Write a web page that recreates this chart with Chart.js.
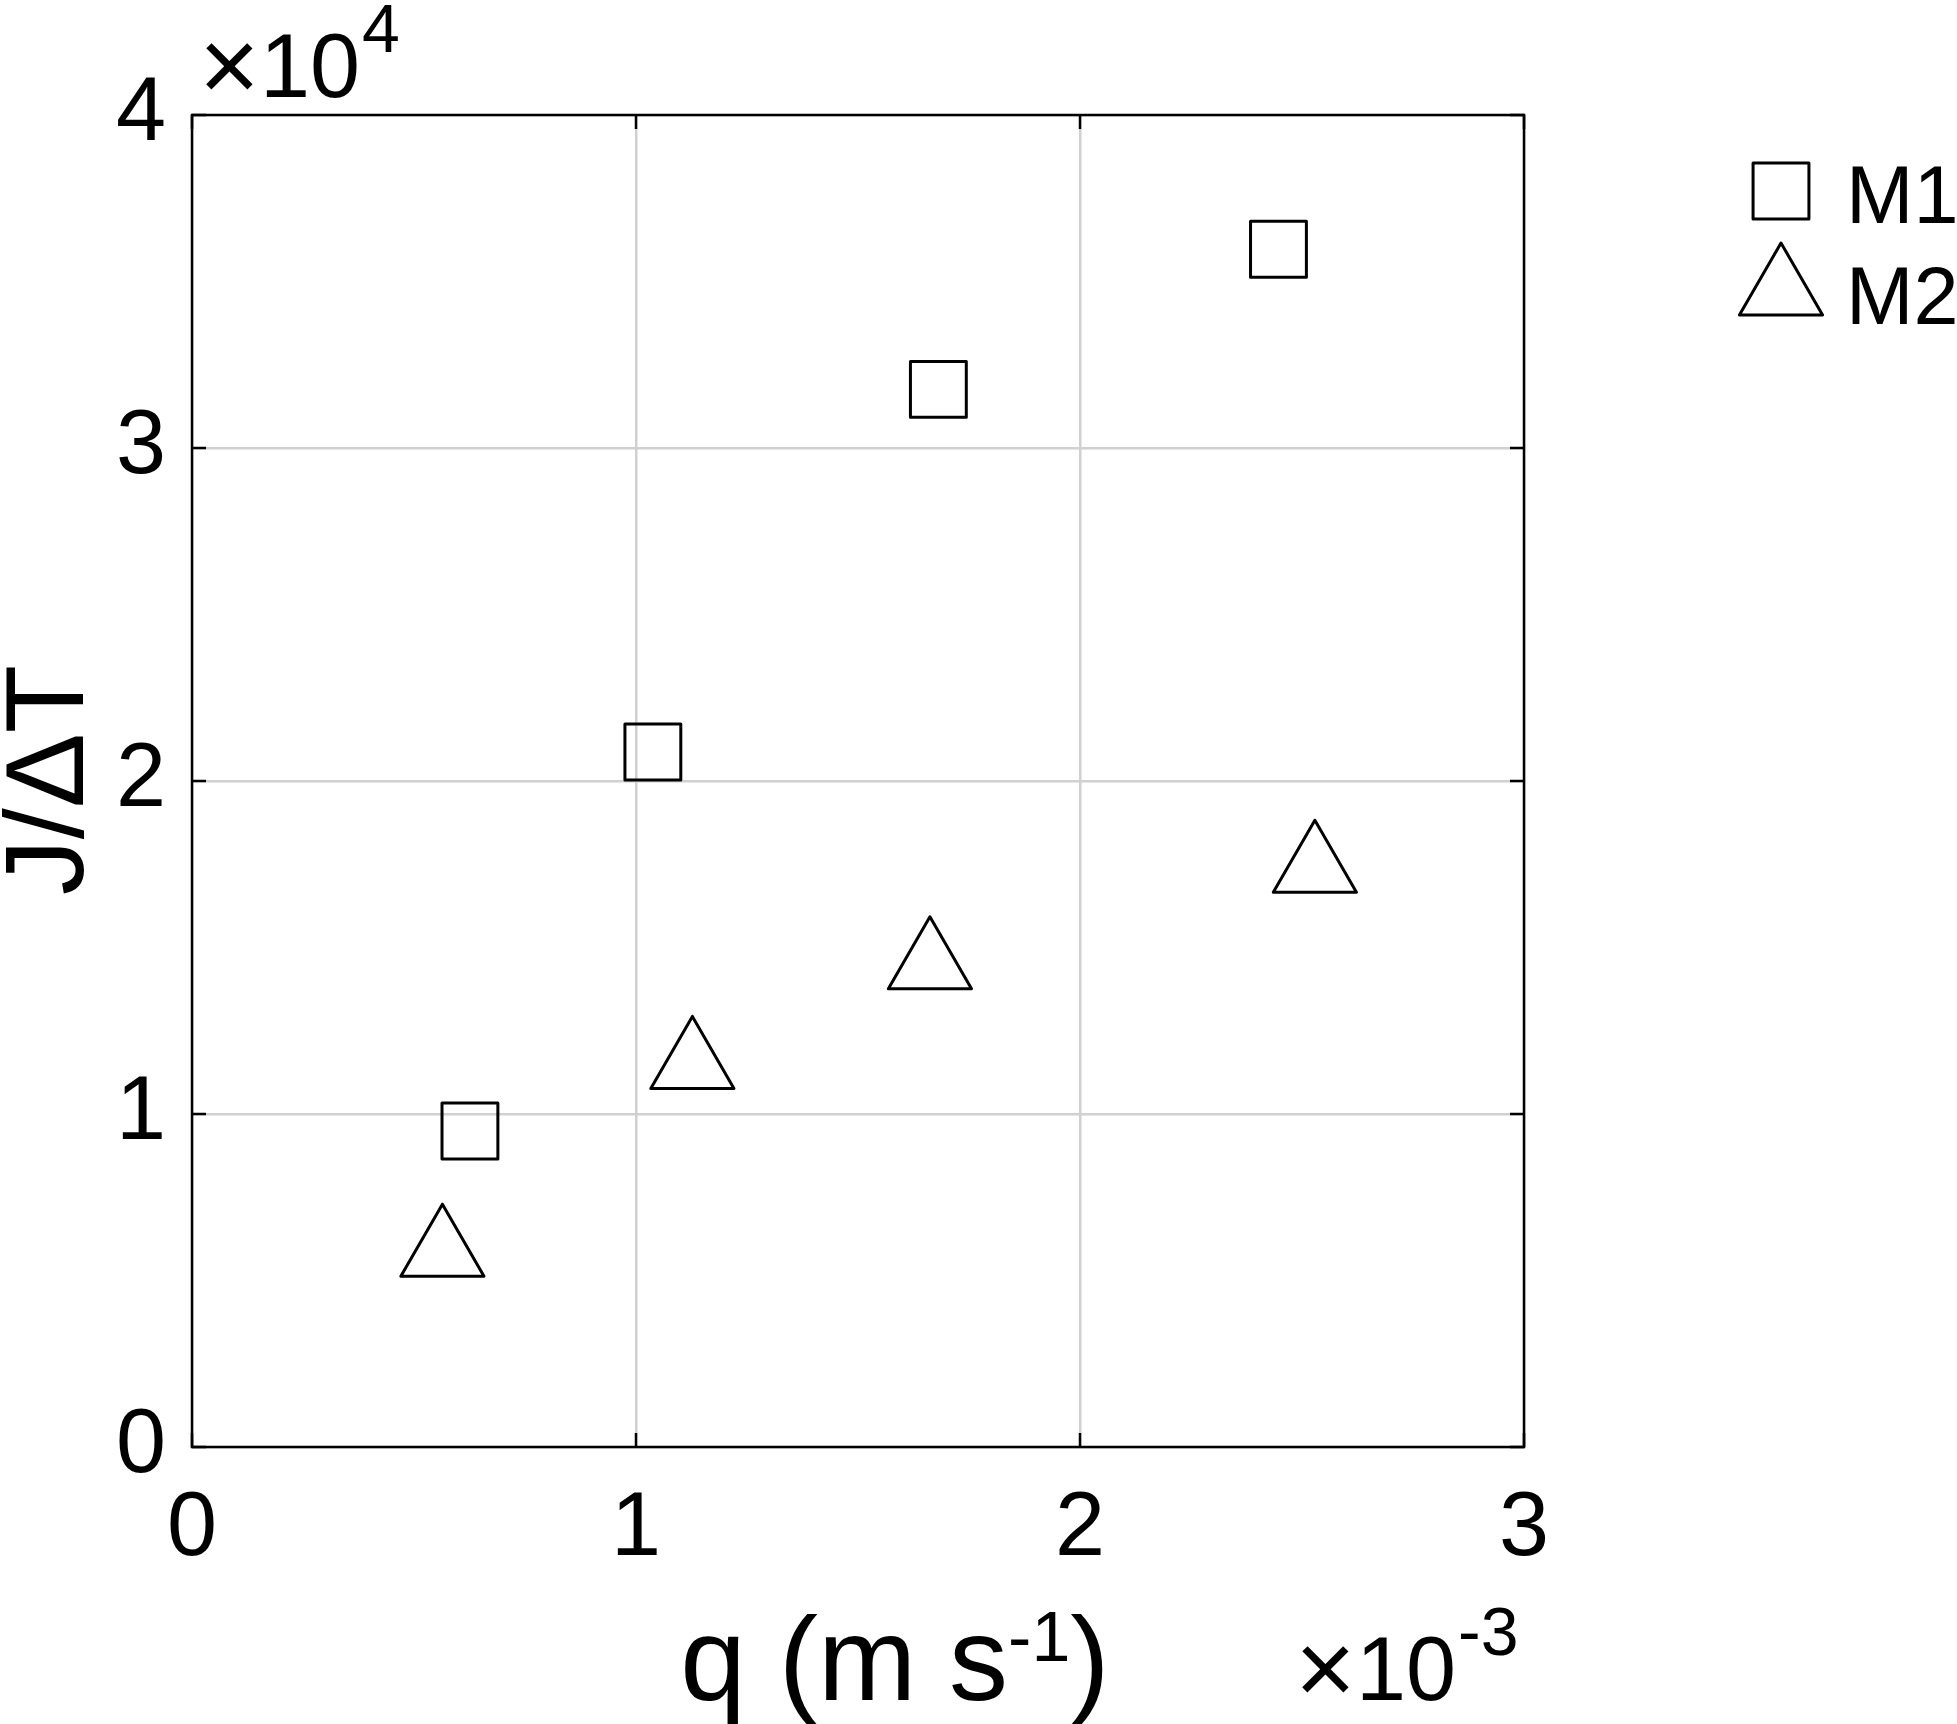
<!DOCTYPE html>
<html><head><meta charset="utf-8">
<script src="https://cdn.jsdelivr.net/npm/chart.js@4/dist/chart.umd.min.js"></script>
<style>html,body{margin:0;padding:0;background:#fff;}#wrap{width:1957px;height:1724px;position:relative;}</style>
</head><body><div id="wrap"><canvas id="c"></canvas></div>
<script>
// ---- data ----
const seriesNames = ['M1', 'M2'];
const qM1 = [0.000626, 0.001038, 0.001681, 0.002447];   // q (m s^-1)
const jM1 = [9490, 20870, 31760, 35970];                // J/ΔT
const qM2 = [0.000564, 0.001127, 0.001662, 0.002529];
const jM2 = [5850, 11490, 14480, 17380];
const xTicks = [0, 0.001, 0.002, 0.003];
const yTicks = [0, 10000, 20000, 30000, 40000];
const xExponent = -3;
const yExponent = 4;
const xTitleBase = 'q (m s';
const xTitleSup = '-1';
const xTitleTail = ')';
const yTitle = 'J/\u0394T';

const FONT = "'Liberation Sans', Arial, Helvetica, sans-serif";

const decor = {
  id: 'decor',
  beforeDatasetsDraw(chart) { chart.ctx.lineJoin = 'round'; },
  afterDatasetsDraw(chart) {
    const { ctx, chartArea: a, scales: { x, y } } = chart;
    ctx.save();
    ctx.strokeStyle = '#000';
    ctx.lineWidth = 2.5;
    const tl = 14;
    ctx.beginPath();
    x.ticks.forEach(t => {
      const px = x.getPixelForValue(t.value);
      ctx.moveTo(px, a.bottom); ctx.lineTo(px, a.bottom - tl);
      ctx.moveTo(px, a.top); ctx.lineTo(px, a.top + tl);
    });
    y.ticks.forEach(t => {
      const py = y.getPixelForValue(t.value);
      ctx.moveTo(a.left, py); ctx.lineTo(a.left + tl, py);
      ctx.moveTo(a.right, py); ctx.lineTo(a.right - tl, py);
    });
    ctx.stroke();
    ctx.lineWidth = 2.5;
    ctx.lineJoin = 'miter';
    ctx.strokeRect(a.left, a.top, a.right - a.left, a.bottom - a.top);

    ctx.fillStyle = '#000';
    ctx.textAlign = 'left';
    ctx.textBaseline = 'alphabetic';

    // x title with superscript
    const fMain = '118px ' + FONT, fSup = '70px ' + FONT;
    ctx.font = fMain;
    const w1 = ctx.measureText(xTitleBase).width;
    const w3 = ctx.measureText(xTitleTail).width;
    ctx.font = fSup;
    const w2 = ctx.measureText(xTitleSup).width;
    const total = w1 + w2 + w3;
    const cx = (a.left + a.right) / 2 + 37;
    const sx = cx - total / 2;
    const by = a.bottom + 253;
    ctx.font = fMain; ctx.fillText(xTitleBase, sx, by);
    ctx.font = fSup; ctx.fillText(xTitleSup, sx + w1, by - 39);
    ctx.font = fMain; ctx.fillText(xTitleTail, sx + w1 + w2, by);

    // y title (rotated)
    ctx.save();
    ctx.translate(83, (a.top + a.bottom) / 2 - 1);
    ctx.rotate(-Math.PI / 2);
    ctx.textAlign = 'center';
    ctx.font = '112px ' + FONT;
    ctx.fillText(yTitle, 0, 0);
    ctx.restore();

    // exponent labels
    const drawExp = (x0, base, exp, supDy) => {
      ctx.font = '104px ' + FONT;
      ctx.fillText('\u00D7', x0 - 3, base + 4);
      ctx.font = '90px ' + FONT;
      const wx = 58;
      ctx.fillText('10', x0 + wx, base);
      const w10 = ctx.measureText('10').width;
      ctx.font = '68px ' + FONT;
      ctx.fillText(String(exp), x0 + wx + w10 + 2, base - supDy);
    };
    drawExp(a.left + 10, a.top - 18, yExponent, 45);
    drawExp(a.right - 226, a.bottom + 253, xExponent, 45);

    // legend
    const H = Chart.helpers;
    const lx = a.right + 257;
    const rows = [a.top + 76, a.top + 176];
    const textBase = [a.top + 108, a.top + 209];
    chart.data.datasets.forEach((ds, i) => {
      ctx.strokeStyle = ds.borderColor;
      ctx.fillStyle = 'rgba(0,0,0,0)';
      ctx.lineWidth = ds.borderWidth;
      ctx.lineJoin = 'round';
      H.drawPoint(ctx, { pointStyle: ds.pointStyle, radius: ds.pointRadius, rotation: 0, borderWidth: ds.borderWidth }, lx, rows[i]);
      ctx.fillStyle = '#000';
      ctx.font = '81px ' + FONT;
      ctx.textBaseline = 'alphabetic';
      ctx.fillText(ds.label, a.right + 322, textBase[i]);
    });
    ctx.restore();
  }
};

const ctxEl = document.getElementById('c');
new Chart(ctxEl, {
  type: 'scatter',
  data: {
    datasets: [
      { label: seriesNames[0], data: qM1.map((v, i) => ({ x: v, y: jM1[i] })),
        pointStyle: 'rect', pointRadius: 39.5, borderColor: '#000', borderWidth: 3,
        backgroundColor: 'rgba(0,0,0,0)', showLine: false },
      { label: seriesNames[1], data: qM2.map((v, i) => ({ x: v, y: jM2[i] })),
        pointStyle: 'triangle', pointRadius: 48, borderColor: '#000', borderWidth: 3,
        backgroundColor: 'rgba(0,0,0,0)', showLine: false }
    ]
  },
  options: {
    responsive: true,
    maintainAspectRatio: false,
    animation: false,
    devicePixelRatio: 1,
    events: [],
    layout: { padding: { left: 0, top: 115, right: 433, bottom: 0 } },
    plugins: { legend: { display: false }, tooltip: { enabled: false } },
    scales: {
      x: {
        type: 'linear', min: 0, max: 0.003,
        afterBuildTicks: s => { s.ticks = xTicks.map(v => ({ value: v })); },
        afterFit: s => { s.height = 277; },
        ticks: { color: '#000', font: { size: 90, family: FONT }, padding: 29, maxRotation: 0,
          callback: v => String(Math.round(v / Math.pow(10, xExponent))) },
        grid: { color: '#d0d0d0', lineWidth: 2.5, drawTicks: false },
        border: { display: false }
      },
      y: {
        type: 'linear', min: 0, max: 40000,
        afterBuildTicks: s => { s.ticks = yTicks.map(v => ({ value: v })); },
        afterFit: s => { s.width = 192; },
        ticks: { color: '#000', font: { size: 90, family: FONT }, padding: 26,
          callback: v => String(Math.round(v / Math.pow(10, yExponent))) },
        grid: { color: '#d0d0d0', lineWidth: 2.5, drawTicks: false },
        border: { display: false }
      }
    }
  },
  plugins: [decor]
});
</script>
</body></html>
